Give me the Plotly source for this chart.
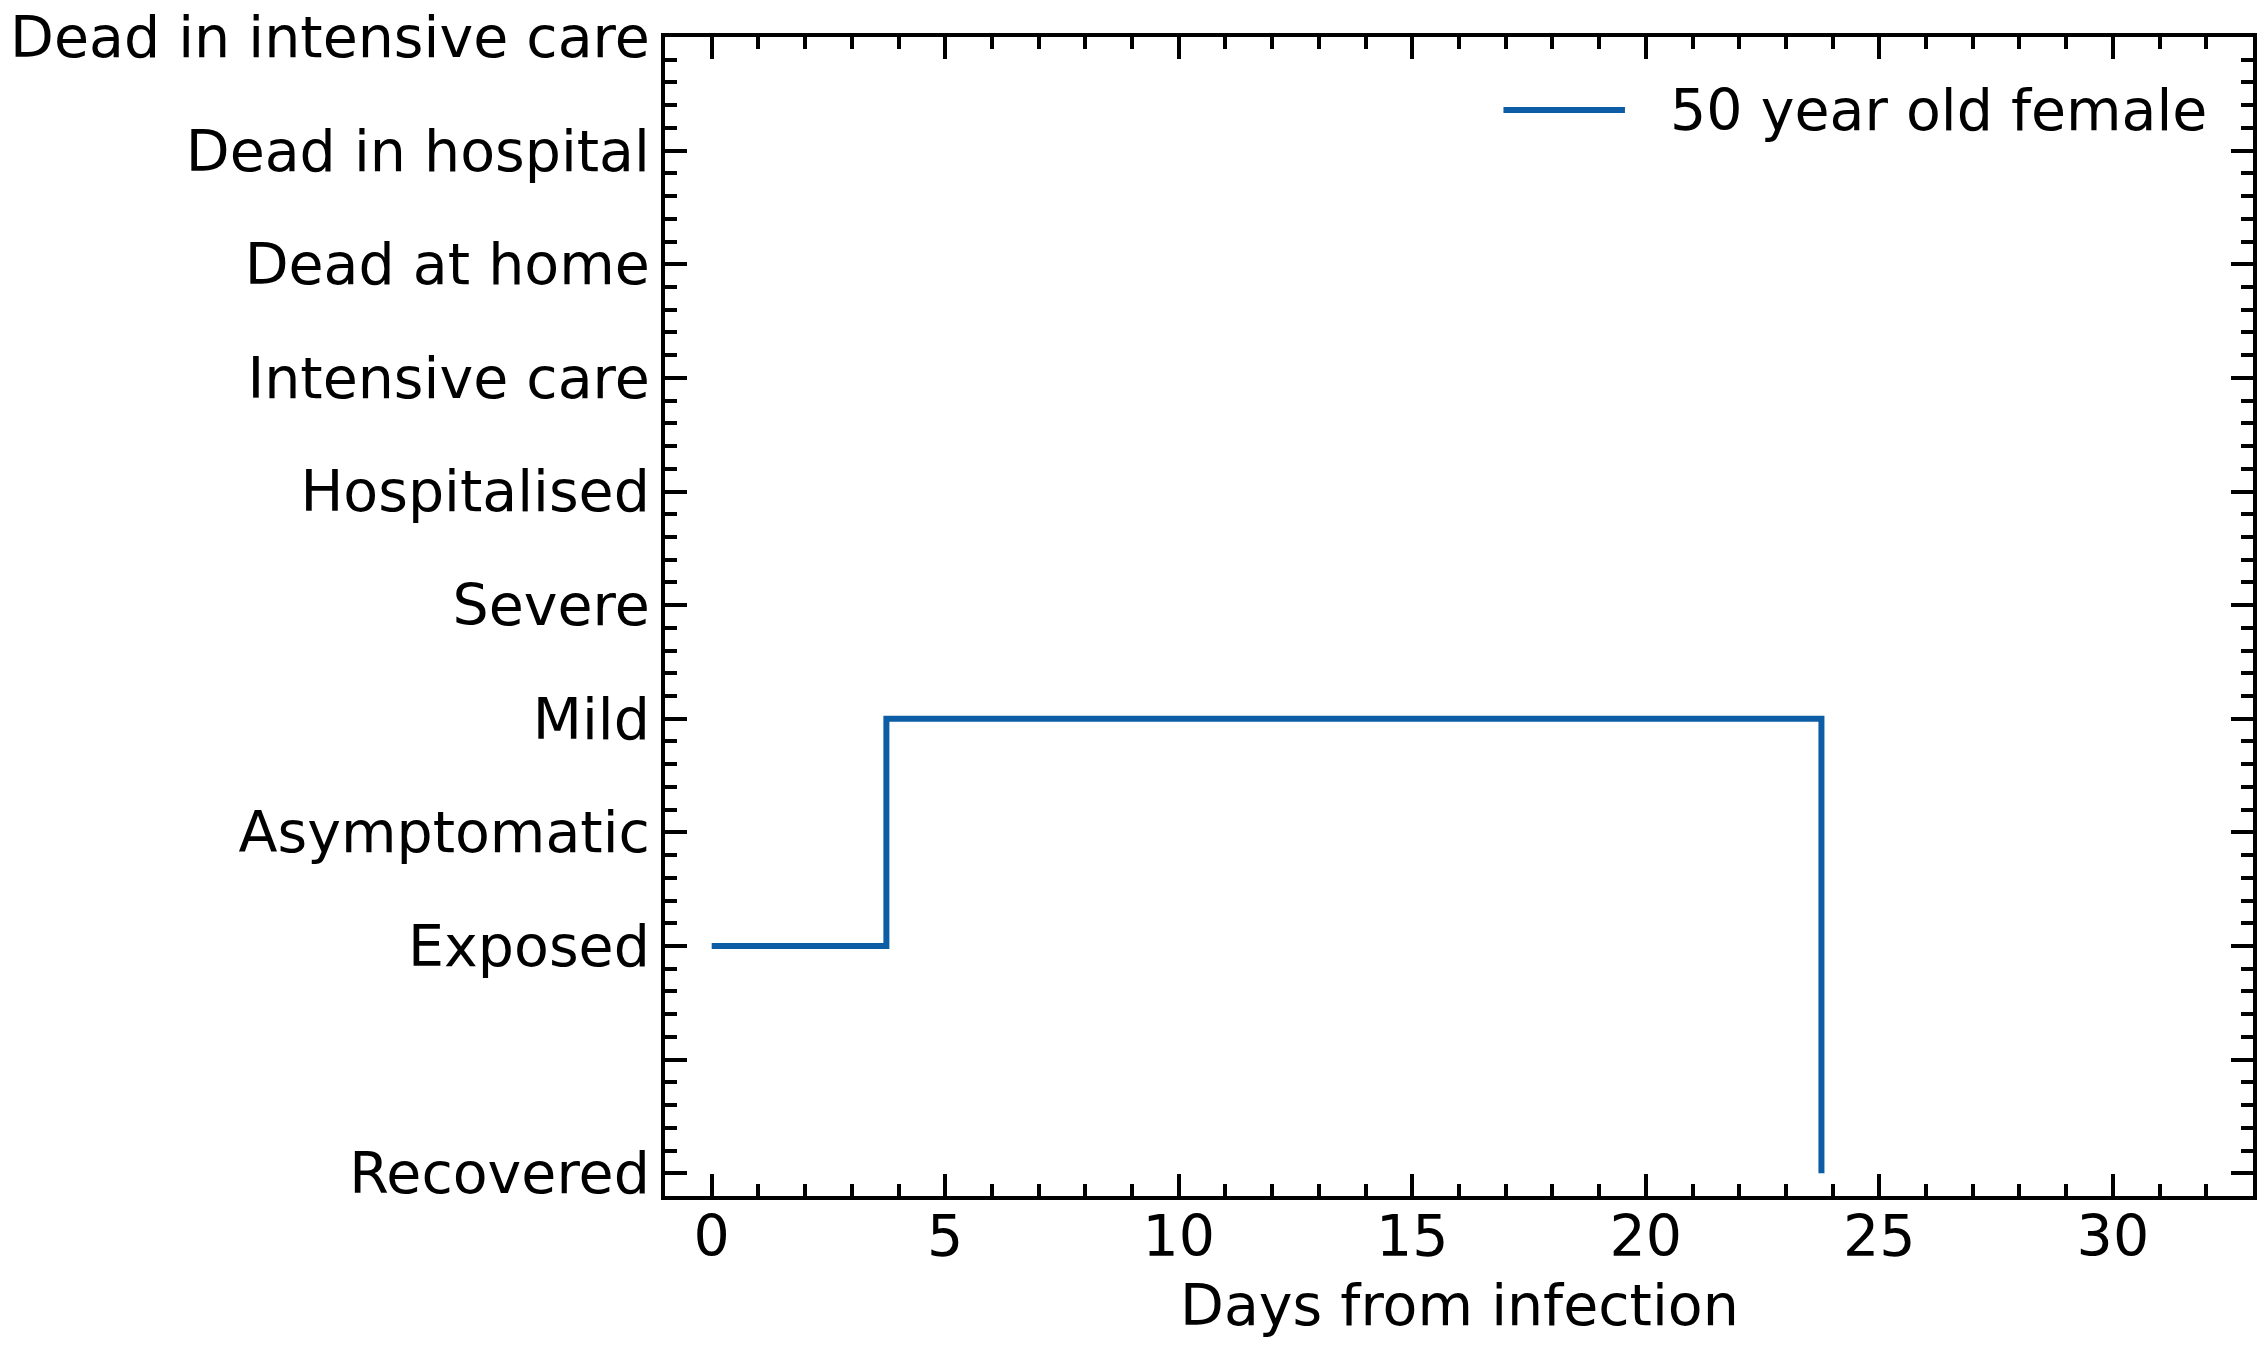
import plotly.graph_objects as go

# Y-axis categories (value = position on axis)
state_labels = ["Recovered", "", "Exposed", "Asymptomatic", "Mild", "Severe",
                "Hospitalised", "Intensive care", "Dead at home",
                "Dead in hospital", "Dead in intensive care"]
state_values = [-2, -1, 0, 1, 2, 3, 4, 5, 6, 7, 8]

# Trajectory of the 50 year old female
days = [0.0, 3.74, 23.76]
states = ["Exposed", "Mild", "Recovered"]

series_name = "50 year old female"
x_title = "Days from infection"
color = "#0C5DA5"
FONT = "DejaVu Sans"
FS = 57

lookup = dict(zip(state_labels, state_values))
yvals = [lookup[s] for s in states]

fig = go.Figure()
fig.add_trace(go.Scatter(
    x=days, y=yvals, mode="lines", line_shape="hv",
    line=dict(color=color, width=6), name=series_name, showlegend=False,
))

XR = [-1, 33]
YR = [-2.2, 8]
TW = 3.5

def common(show_labels):
    return dict(
        showline=True, linecolor="black", linewidth=3.5, mirror=False,
        ticks="inside", ticklen=22, tickwidth=TW, tickcolor="black",
        showgrid=False, zeroline=False, automargin=False,
        showticklabels=show_labels, ticklabeloverflow="allow",
        tickfont=dict(family=FONT, size=FS, color="black"),
    )

xminor = dict(dtick=1, tick0=0, ticks="inside", ticklen=12, tickwidth=TW, tickcolor="black", showgrid=False)
yminor = dict(dtick=0.2, tick0=0, ticks="inside", ticklen=12, tickwidth=TW, tickcolor="black", showgrid=False)

fig.update_layout(
    xaxis=dict(range=XR, dtick=5, tick0=0, minor=xminor, ticklabelstandoff=-12, **common(True)),
    yaxis=dict(range=YR, tickmode="array", tickvals=state_values, ticktext=state_labels,
               minor=yminor, ticklabelstandoff=0, **common(True)),
    xaxis2=dict(range=XR, dtick=5, tick0=0, minor=xminor, overlaying="x", side="top",
                anchor="y", **common(False)),
    yaxis2=dict(range=YR, tickmode="array", tickvals=state_values, minor=yminor,
                overlaying="y", side="right", anchor="x", **common(False)),
)

# Invisible copy on the mirrored axes so they are rendered
fig.add_trace(go.Scatter(x=days, y=yvals, xaxis="x2", yaxis="y2", mode="lines",
                         line=dict(width=0, color="rgba(0,0,0,0)"), showlegend=False,
                         hoverinfo="skip"))

# Legend (drawn manually to match long legend handle)
fig.add_shape(type="line", xref="paper", yref="paper", x0=0.528, x1=0.6045, y0=0.937, y1=0.937,
              line=dict(color=color, width=6))
fig.add_annotation(xref="paper", yref="paper", x=0.6316, y=0.937, xanchor="left", yanchor="middle",
                   text=series_name, showarrow=False,
                   font=dict(family=FONT, size=FS, color="black"))

# X axis title
fig.add_annotation(xref="paper", yref="paper", x=0.5, y=-0.094, xanchor="center", yanchor="middle",
                   text=x_title, showarrow=False,
                   font=dict(family=FONT, size=FS, color="black"))

fig.update_layout(
    width=2267, height=1350,
    margin=dict(l=665, r=14, t=37, b=154),
    paper_bgcolor="white", plot_bgcolor="white",
    font=dict(family=FONT, size=FS, color="black"),
)

# remove the default page margin so the figure sits at the window's top-left
fig.write_html("out.html", config={"displayModeBar": False},
               post_script="document.body.style.margin='0';")
